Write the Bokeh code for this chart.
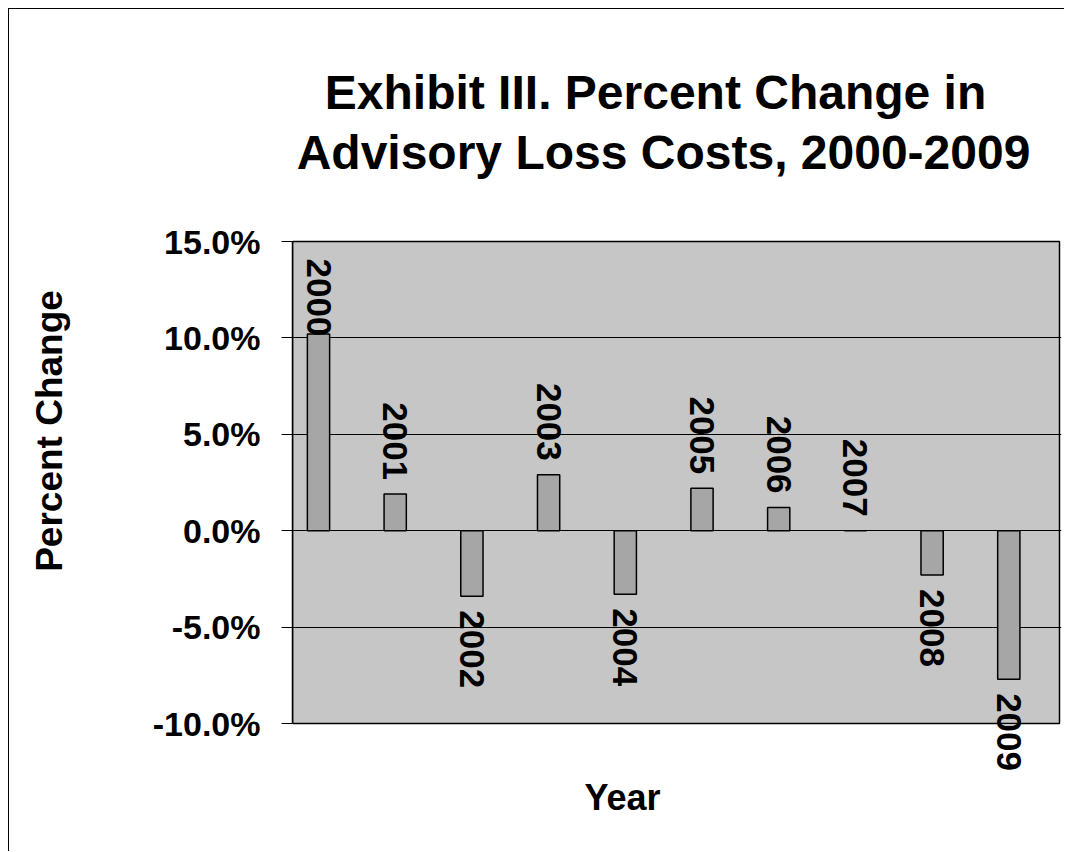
import math
from bokeh.plotting import figure
from bokeh.models import (Range1d, PrintfTickFormatter, FixedTicker, LinearAxis,
                          ColumnDataSource)
from bokeh.transform import dodge
from bokeh.core.properties import value
from bokeh.embed import file_html
from bokeh.resources import INLINE

# ---------------- data ----------------
years = ["2000", "2001", "2002", "2003", "2004",
         "2005", "2006", "2007", "2008", "2009"]
pct_change = [10.2, 1.9, -3.4, 2.9, -3.3, 2.2, 1.2, 0.0, -2.3, -7.7]
y_ticks = [-10, -5, 0, 5, 10, 15]
grid_ticks = [-5, 0, 5, 10]
title_lines = ["Exhibit III. Percent Change in",
               "Advisory Loss Costs, 2000-2009"]
x_title = "Year"
y_title = "Percent Change"

# ---------------- layout (page pixels) ----------------
OX, OY = 9, 9                 # figure origin on the page (via margin)
W, H = 1056, 843
PLOT_L, PLOT_R = 292, 1059    # plot-area left / right
PLOT_T, PLOT_B = 241, 723     # plot-area top (15%) / bottom (-10%)
FRAME_R = 1061
YMIN, YMAX = y_ticks[0], y_ticks[-1]
NCAT = len(years)
CAT_W = (PLOT_R - PLOT_L) / NCAT
PPU = (PLOT_B - PLOT_T) / (YMAX - YMIN)
FONT = "Liberation Sans"

def x_of(px):
    return -0.5 + (px - PLOT_L) / CAT_W

def y_of(py):
    return YMAX - (py - PLOT_T) / PPU

p = figure(width=W, height=H,
           x_range=Range1d(x_of(PLOT_L), x_of(FRAME_R)),
           y_range=Range1d(y_of(OY + H), y_of(OY)),
           output_backend="svg", toolbar_location=None, title=None,
           x_axis_location=None,
           min_border_left=PLOT_L - OX, min_border_right=OX + W - FRAME_R,
           min_border_top=0, min_border_bottom=0)
p.styles = {"margin-left": f"{OX}px", "margin-top": f"{OY}px",
            "box-shadow": "-1px -1px 0 0 black"}
p.background_fill_color = "white"
p.border_fill_color = "white"
p.outline_line_color = None

# plot area
p.quad(left=[-0.5], right=[NCAT - 0.5], bottom=[YMIN], top=[YMAX],
       fill_color="#c6c6c6", line_color="black", line_width=1.5, level="image")

# grid
p.xgrid.visible = False
p.ygrid.ticker = FixedTicker(ticks=grid_ticks)
p.ygrid.grid_line_color = "black"
p.ygrid.grid_line_width = 1

# y axis
ya = p.yaxis[0]
ya.bounds = (YMIN, YMAX)
ya.ticker = FixedTicker(ticks=y_ticks)
ya.formatter = PrintfTickFormatter(format="%.1f%%")
ya.major_label_text_font = FONT
ya.major_label_text_font_style = "bold"
ya.major_label_text_font_size = "34px"
ya.major_label_text_color = "black"
ya.major_tick_in = 0
ya.major_tick_out = 11
ya.major_label_standoff = 21
ya.minor_tick_line_color = None
ya.axis_line_color = "black"
ya.axis_line_width = 1.5
ya.major_tick_line_color = "black"

# axis title on its own (label-only) axis so it can sit off-centre
c = y_of(440)
yt = LinearAxis(ticker=FixedTicker(ticks=[]), bounds=(c - 5, c + 5),
                axis_label=y_title, axis_line_color=None,
                major_tick_in=0, major_tick_out=0, minor_tick_in=0,
                minor_tick_out=0, major_label_standoff=0,
                axis_label_standoff=80,
                axis_label_text_font=FONT, axis_label_text_font_style="bold",
                axis_label_text_font_size="37px", axis_label_text_color="black")
p.add_layout(yt, "left")

# bars + labels
L = 4 * 0.556 * 35
gap = 14
offsets, aligns = [], []
for v in pct_change:
    py = PLOT_T + (YMAX - v) * PPU
    if v >= 0:
        off = -gap
        start = py + off - L
        if start < PLOT_T + 17:
            off += (PLOT_T + 17 - start)
        offsets.append(off)
        aligns.append("right")
    else:
        offsets.append(gap)
        aligns.append("left")

src = ColumnDataSource(dict(i=list(range(NCAT)), year=years, v=pct_change,
                            yoff=offsets, align=aligns))
BAR_SHIFT = (318 - (PLOT_L + CAT_W / 2)) / CAT_W
p.vbar(x=dodge("i", BAR_SHIFT, range=p.x_range), top="v", bottom=0, width=0.29,
       fill_color="#a6a6a6", line_color="black", line_width=1.5, source=src)
p.text(x=dodge("i", BAR_SHIFT, range=p.x_range), y="v", text="year",
       angle=-math.pi / 2, text_align="align", text_baseline="middle",
       y_offset="yoff", text_font=value(FONT), text_font_style="bold",
       text_font_size="35px", text_color="black", source=src)

# chart title and x title (inside the tall frame)
p.text(x=[x_of(655), x_of(663)], y=[y_of(92), y_of(152)], text=title_lines,
       text_align="center", text_baseline="alphabetic",
       text_font=value(FONT), text_font_style="bold",
       text_font_size="48px", text_color="black")
p.text(x=[x_of(622)], y=[y_of(797)], text=[x_title],
       text_align="center", text_baseline="alphabetic",
       text_font=value(FONT), text_font_style="bold",
       text_font_size="36px", text_color="black")

open("out.html", "w").write(file_html(p, INLINE))
